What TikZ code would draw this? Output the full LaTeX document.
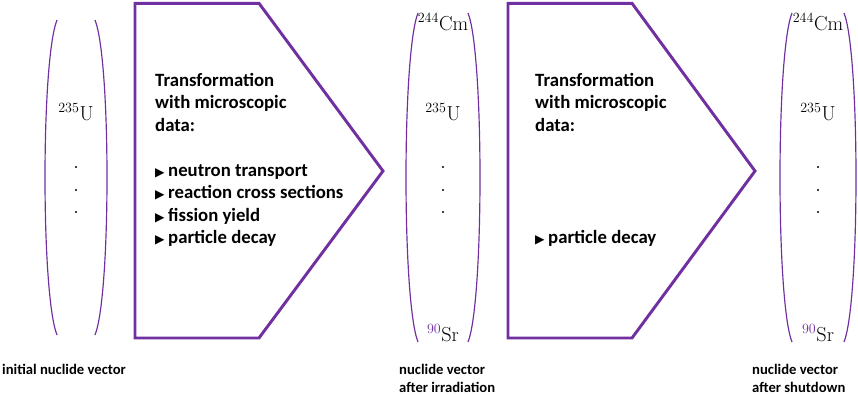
\documentclass[tikz,border=0pt]{standalone}
\usepackage[no-math]{fontspec}
\setmainfont{Carlito}
\newfontfamily\symfont{DejaVu Sans}
\definecolor{vecpurple}{RGB}{112,48,160}
\newcommand{\tri}{{\symfont\fontsize{10.5}{10.5}\selectfont ▶}\hspace{3pt}}
\begin{document}
\begin{tikzpicture}[x=0.03cm,y=-0.03cm,
    bracket/.style={vecpurple,line width=1pt},
    arrowbox/.style={vecpurple,line width=2.5pt,line join=miter},
    stepinfo/.style={anchor=north west,inner sep=0pt,align=left,font=\fontsize{16}{19.2}\selectfont\bfseries},
    nuclide/.style={inner sep=0pt,font=\fontsize{17.5}{20}\selectfont},
    caption/.style={anchor=north west,inner sep=0pt,align=left,font=\fontsize{12.5}{15.4}\selectfont\bfseries}]
  \useasboundingbox (0,0) rectangle (858,395);
  % brackets of the three nuclide vectors
  \foreach \xa/\xb/\ya/\yb in {45/107/20/335, 406/480/13/342, 780/856/13/342}{
    \draw[bracket] (\xa+12,\ya) .. controls (\xa-4,\ya+40) and (\xa-4,\yb-40) .. (\xa+12,\yb);
    \draw[bracket] (\xb-12,\ya) .. controls (\xb+4,\ya+40) and (\xb+4,\yb-40) .. (\xb-12,\yb);
  }
  % vector entries
  \node[nuclide] (uA) at (76,112) {$^{235}\mathrm{U}$};
  \node[nuclide] (cmB) at (443,22) {$^{244}\mathrm{Cm}$};
  \node[nuclide] (uB) at (443,112) {$^{235}\mathrm{U}$};
  \node[nuclide] (srB) at (443,333) {$^{\color{vecpurple}90}\mathrm{Sr}$};
  \node[nuclide] (cmC) at (818,22) {$^{244}\mathrm{Cm}$};
  \node[nuclide] (uC) at (818,112) {$^{235}\mathrm{U}$};
  \node[nuclide] (srC) at (818,333) {$^{\color{vecpurple}90}\mathrm{Sr}$};
  \foreach \x in {76,443,818}{
    \foreach \y in {167,190,212}{
      \fill (\x,\y) circle (0.9pt);
    }
  }
  % transformation steps
  \draw[arrowbox] (135,3.3) -- (259,3.3) -- (383,171) -- (259,338) -- (135,338) -- cycle;
  \draw[arrowbox] (508,3.3) -- (632,3.3) -- (755,171) -- (632,338) -- (508,338) -- cycle;
  \node[stepinfo] (stepA) at (155,73) {Transformation\\with microscopic\\data:\\[19.2pt]
    \tri neutron transport\\\tri reaction cross sections\\\tri fission yield\\\tri particle decay};
  \node[stepinfo] (stepB) at (535,73) {Transformation\\with microscopic\\data:\\[76.8pt]
    \tri particle decay};
  % captions
  \node[caption] (capA) at (2,364) {initial nuclide vector};
  \node[caption] (capB) at (399,364) {nuclide vector\\after irradiation};
  \node[caption] (capC) at (752,364) {nuclide vector\\after shutdown};
\end{tikzpicture}
\end{document}
